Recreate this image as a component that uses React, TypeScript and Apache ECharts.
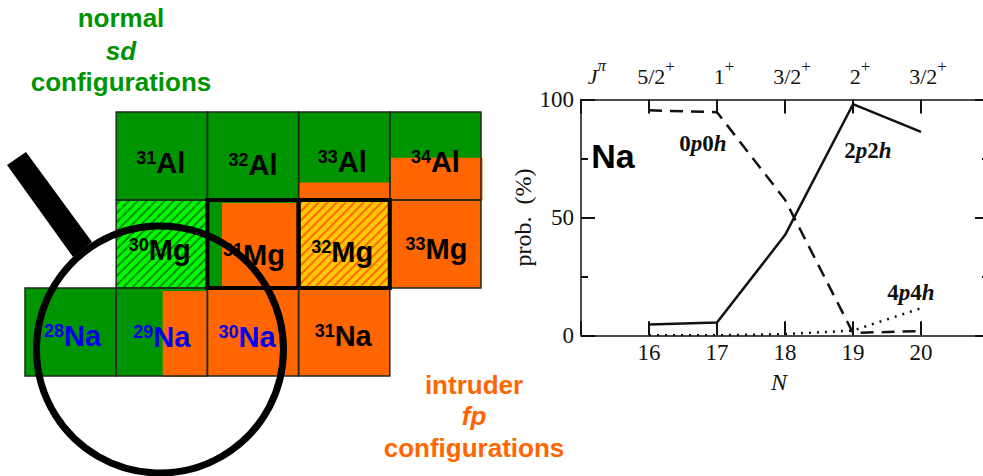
import React, { useEffect, useRef } from "react";
import * as echarts from "echarts";

// ---- probability panel
const neutronNumbers = [16, 17, 18, 19, 20];
const spinLabels = ["5/2", "1", "3/2", "2", "3/2"];
const prob0p0h = [95.4, 94.6, 57.5, 1, 1.8];
const prob2p2h = [4.6, 5.4, 42.5, 98, 86.3];
const prob4p4h = [0, 0, 0.5, 2, 11.5];

// ---- nuclide map
const elements = ["Al", "Al", "Al", "Al", "Mg", "Mg", "Mg", "Mg", "Na", "Na", "Na", "Na"];
const massNumbers = [31, 32, 33, 34, 30, 31, 32, 33, 28, 29, 30, 31];
const protonOf: Record<string, number> = { Al: 13, Mg: 12, Na: 11 };
const fpShare = [0, 0, 0.2, 0.48, 0, 0.84, 0, 1, 0, 0.49, 1, 1];
const hatched = ["", "", "", "", "green", "", "yellow", "", "", "", "", ""];
const blueLabels = ["28Na", "29Na", "30Na"];
const thickBorder = ["31Mg", "32Mg"];

const GREEN = "#009400";
const ORANGE = "#ff6600";
const SANS = '"Liberation Sans", Arial, sans-serif';
const SERIF = '"Liberation Serif", "Times New Roman", serif';
const INK = "#111111";

const labelNudge: Record<string, [number, number]> = {
  "31Al": [-1, 7], "32Al": [0, 9], "33Al": [-2, 6], "34Al": [0, 6],
  "30Mg": [-2, 6], "31Mg": [1, 11], "32Mg": [-2, 8], "33Mg": [1, 5],
  "28Na": [2, 4], "29Na": [0, 5], "30Na": [-6, 5], "31Na": [-1, 4],
};

const cellData = elements.map((el, i) => [massNumbers[i] - protonOf[el], protonOf[el], i]);

function renderCell(_params: any, api: any) {
  const i = api.value(2);
  const el = elements[i];
  const key = massNumbers[i] + el;
  const p0 = api.coord([api.value(0) - 0.5, api.value(1) + 0.5]);
  const p1 = api.coord([api.value(0) + 0.5, api.value(1) - 0.5]);
  const x = p0[0];
  const y = p0[1];
  const w = p1[0] - p0[0];
  const h = p1[1] - p0[1];
  const share = fpShare[i];
  const hatch = hatched[i];
  const base = hatch === "green" ? "#00f800" : hatch === "yellow" ? "#ffc800" : share === 1 ? ORANGE : GREEN;
  const children: any[] = [
    { type: "rect", shape: { x, y, width: w, height: h }, style: { fill: base }, z2: 1 },
  ];
  if (share > 0 && share < 1) {
    if (el === "Al") {
      const oh = h * share;
      children.push({ type: "rect", shape: { x: x + 0.5, y: y + h - oh, width: w + 1, height: oh }, style: { fill: ORANGE }, z2: 2 });
    } else {
      const ow = w * share;
      children.push({ type: "rect", shape: { x: x + w - ow, y: y + 3, width: ow, height: h - 2 }, style: { fill: ORANGE }, z2: 2 });
    }
  }
  if (hatch) {
    const stroke = hatch === "green" ? GREEN : "#ff6a00";
    const period = 9;
    for (let c = x + y + period / 2; c < x + y + w + h; c += period) {
      children.push({
        type: "line",
        shape: {
          x1: Math.max(x, c - (y + h)),
          y1: Math.min(y + h, c - x),
          x2: Math.min(x + w, c - y),
          y2: Math.max(y, c - x - w),
        },
        style: { stroke, lineWidth: 2 },
        z2: 3,
      });
    }
  }
  const thick = thickBorder.includes(key);
  children.push({
    type: "rect",
    shape: { x, y, width: w, height: h },
    style: { fill: "none", stroke: thick ? "#000000" : "#1c2b1c", lineWidth: thick ? 4 : 1.5 },
    z2: thick ? 6 : 4,
  });
  const colour = blueLabels.includes(key) ? "#0000ee" : "#000000";
  const n = labelNudge[key];
  children.push({
    type: "text",
    z2: 8,
    style: {
      x: x + w / 2 + n[0],
      y: y + h / 2 + n[1],
      align: "center",
      verticalAlign: "middle",
      text: `{sup|${massNumbers[i]}}{el|${el}}`,
      rich: {
        sup: { fontFamily: SANS, fontWeight: "bold", fontSize: 18, fill: colour, verticalAlign: "top" },
        el: { fontFamily: SANS, fontWeight: "bold", fontSize: 29, fill: colour, verticalAlign: "bottom" },
      },
    },
  });
  return { type: "group", children };
}

const caption = (text: string, x: number, y: number, fill: string, italic = false) => ({
  type: "text",
  z: 10,
  style: {
    text, x, y, fill,
    align: "center",
    verticalAlign: "middle",
    fontFamily: SANS,
    fontWeight: "bold",
    fontStyle: italic ? "italic" : "normal",
    fontSize: 26,
  },
});

const configLabel = (a: string, b: string, c: string, x: number, y: number) => ({
  type: "text",
  z: 10,
  style: {
    x, y,
    align: "center",
    verticalAlign: "middle",
    text: `{d|${a}}{i|p}{d|${b}}{i|${c}}`,
    rich: {
      d: { fontFamily: SERIF, fontWeight: "bold", fontSize: 23, fill: INK },
      i: { fontFamily: SERIF, fontWeight: "bold", fontStyle: "italic", fontSize: 23, fill: INK },
    },
  },
});

const axisBase = {
  axisLine: { show: true, onZero: false, lineStyle: { color: INK, width: 1.5 } },
  axisTick: { show: true, inside: true, length: 14, lineStyle: { color: INK, width: 2 } },
  splitLine: { show: false },
};

export default function App() {
  const ref = useRef<HTMLDivElement>(null);
  useEffect(() => {
    document.body.style.margin = "0";
    const chart = echarts.init(ref.current!, undefined, { renderer: "svg" });
    chart.setOption({
      animation: false,
      backgroundColor: "#ffffff",
      grid: [
        { left: 581, top: 99.5, width: 408, height: 235.8, outerBoundsMode: "none" },
        { left: 25, top: 112, width: 456, height: 264, outerBoundsMode: "none" },
      ],
      xAxis: [
        {
          ...axisBase, type: "value", gridIndex: 0, position: "bottom", min: 15, max: 21, interval: 1,
          name: "N", nameLocation: "middle", nameGap: 35,
          nameTextStyle: { fontFamily: SERIF, fontStyle: "italic", fontSize: 24, color: INK, padding: [0, 12, 0, 0] },
          axisLabel: {
            margin: 6, fontFamily: SERIF, fontSize: 23, color: INK,
            formatter: (v: number) => (neutronNumbers.includes(v) ? String(v) : ""),
          },
        },
        {
          ...axisBase, type: "value", gridIndex: 0, position: "top", min: 15, max: 21, interval: 1,
          axisLabel: {
            margin: 12, padding: [0, 0, 0, 14],
            formatter: (v: number) => {
              const k = neutronNumbers.indexOf(v);
              return k < 0 ? "" : `{main|${spinLabels[k]}}{sup|+}`;
            },
            rich: {
              main: { fontFamily: SERIF, fontSize: 22, color: INK, lineHeight: 30, verticalAlign: "bottom" },
              sup: { fontFamily: SERIF, fontSize: 17, color: INK, verticalAlign: "top" },
            },
          },
        },
        { type: "value", gridIndex: 1, min: 16.5, max: 21.5, show: false },
      ],
      yAxis: [
        {
          ...axisBase, type: "value", gridIndex: 0, position: "left", min: 0, max: 100, interval: 50,
          minorTick: { show: true, splitNumber: 2, length: 7, lineStyle: { color: INK, width: 2 } },
          name: "prob.  (%)", nameLocation: "middle", nameGap: 46,
          nameTextStyle: { fontFamily: SERIF, fontSize: 24, color: INK },
          axisLabel: { margin: 7, fontFamily: SERIF, fontSize: 23, color: INK },
        },
        {
          ...axisBase, type: "value", gridIndex: 0, position: "right", min: 0, max: 100, interval: 50,
          minorTick: { show: true, splitNumber: 2, length: 7, lineStyle: { color: INK, width: 2 } },
          axisLabel: { show: false },
        },
        { type: "value", gridIndex: 1, min: 10.5, max: 13.5, show: false },
      ],
      series: [
        {
          type: "line", name: "0p0h", xAxisIndex: 0, yAxisIndex: 0, symbol: "none",
          data: neutronNumbers.map((n, i) => [n, prob0p0h[i]]),
          lineStyle: { color: INK, width: 2.5, type: [13, 8] },
        },
        {
          type: "line", name: "2p2h", xAxisIndex: 0, yAxisIndex: 0, symbol: "none",
          data: neutronNumbers.map((n, i) => [n, prob2p2h[i]]),
          lineStyle: { color: INK, width: 2.5 },
        },
        {
          type: "line", name: "4p4h", xAxisIndex: 0, yAxisIndex: 0, symbol: "none",
          data: neutronNumbers.map((n, i) => [n, prob4p4h[i]]),
          lineStyle: { color: INK, width: 2.5, type: [2, 6] },
        },
        {
          type: "custom", name: "nuclides", xAxisIndex: 2, yAxisIndex: 2, clip: false,
          renderItem: renderCell, data: cellData, encode: { x: 0, y: 1 },
        },
      ],
      graphic: {
        elements: [
          caption("normal", 121, 18, GREEN),
          caption("sd", 121, 51, GREEN, true),
          caption("configurations", 121, 82, GREEN),
          caption("intruder", 474, 385, ORANGE),
          caption("fp", 474, 416, ORANGE, true),
          caption("configurations", 474, 448, ORANGE),
          {
            type: "polygon", z: 10,
            shape: { points: [[7, 165], [26, 152], [92, 242], [73, 257]] },
            style: { fill: "#000000" },
          },
          {
            type: "circle", z: 10,
            shape: { cx: 160, cy: 349.5, r: 123.5 },
            style: { fill: "none", stroke: "#000000", lineWidth: 7 },
          },
          {
            type: "text", z: 10,
            style: {
              text: "Na", x: 613, y: 156, align: "center", verticalAlign: "middle",
              fontFamily: SANS, fontWeight: "bold", fontSize: 34, fill: "#000000",
            },
          },
          configLabel("0", "0", "h", 703, 143),
          configLabel("2", "2", "h", 868, 150),
          configLabel("4", "4", "h", 911, 292),
          {
            type: "text", z: 10,
            style: {
              x: 597, y: 72, align: "center", verticalAlign: "middle",
              text: "{j|J}{sup|π}",
              rich: {
                j: { fontFamily: SERIF, fontStyle: "italic", fontSize: 22, fill: INK, lineHeight: 30, verticalAlign: "bottom" },
                sup: { fontFamily: SERIF, fontStyle: "italic", fontSize: 17, fill: INK, verticalAlign: "top" },
              },
            },
          },
        ],
      },
    });
    return () => chart.dispose();
  }, []);
  return <div ref={ref} style={{ position: "fixed", left: 0, top: 0, width: 983, height: 476 }} />;
}
